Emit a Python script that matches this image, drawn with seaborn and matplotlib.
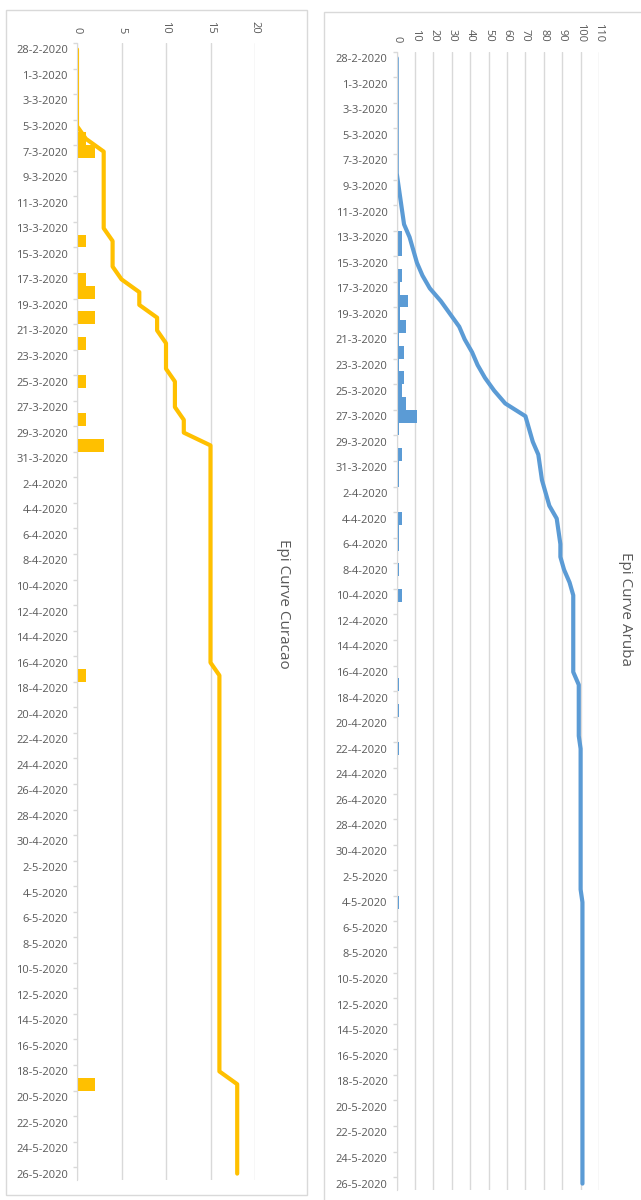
import numpy as np
import pandas as pd
import seaborn as sns
import matplotlib.pyplot as plt
from matplotlib.patches import Rectangle

# dates on the category axis (every day, labels every 2nd day)
dates = pd.date_range("2020-02-28", "2020-05-26")
day_labels = [f"{d.day}-{d.month}-{d.year}" for d in dates]

# Curacao: new cases per day and running total
curacao_new = [0, 0, 0, 0, 0, 0, 0, 1, 2, 0,
               0, 0, 0, 0, 0, 1, 0, 0, 1, 2,
               0, 2, 0, 1, 0, 0, 1, 0, 0, 1,
               0, 3, 0, 0, 0, 0, 0, 0, 0, 0,
               0, 0, 0, 0, 0, 0, 0, 0, 0, 1,
               0, 0, 0, 0, 0, 0, 0, 0, 0, 0,
               0, 0, 0, 0, 0, 0, 0, 0, 0, 0,
               0, 0, 0, 0, 0, 0, 0, 0, 0, 0,
               0, 2, 0, 0, 0, 0, 0, 0, 0]
curacao_total = [0, 0, 0, 0, 0, 0, 0, 1, 3, 3,
                 3, 3, 3, 3, 3, 4, 4, 4, 5, 7,
                 7, 9, 9, 10, 10, 10, 11, 11, 11, 12,
                 12, 15, 15, 15, 15, 15, 15, 15, 15, 15,
                 15, 15, 15, 15, 15, 15, 15, 15, 15, 16,
                 16, 16, 16, 16, 16, 16, 16, 16, 16, 16,
                 16, 16, 16, 16, 16, 16, 16, 16, 16, 16,
                 16, 16, 16, 16, 16, 16, 16, 16, 16, 16,
                 16, 18, 18, 18, 18, 18, 18, 18, 18]

# Aruba: new cases per day and running total
aruba_new = [0, 0, 0, 0, 0, 0, 0, 0, 0, 0,
             0, 0, 0, 0, 3, 3, 0, 3, 2, 6,
             2, 5, 1, 4, 1, 4, 3, 5, 11, 1,
             0, 3, 1, 1, 0, 0, 3, 1, 1, 0,
             1, 0, 3, 0, 0, 0, 0, 0, 0, 1,
             0, 1, 0, 0, 1, 0, 0, 0, 0, 0,
             0, 0, 0, 0, 0, 0, 1, 0, 0, 0,
             0, 0, 0, 0, 0, 0, 0, 0, 0, 0,
             0, 0, 0, 0, 0, 0, 0, 0, 0]
aruba_total = [0, 0, 0, 0, 0, 0, 0, 0, 0, 0,
               1, 2, 3, 4, 7, 9, 11, 14, 18, 24,
               29, 34, 37, 41, 44, 48, 53, 59, 70, 72,
               74, 77, 78, 79, 81, 83, 87, 88, 89, 89,
               91, 94, 96, 96, 96, 96, 96, 96, 96, 99,
               99, 99, 99, 99, 100, 100, 100, 100, 100, 100,
               100, 100, 100, 100, 100, 100, 101, 101, 101, 101,
               101, 101, 101, 101, 101, 101, 101, 101, 101, 101,
               101, 101, 101, 101, 101, 101, 101, 101, 101]

GRID = "#d9d9d9"
TXT = "#595959"

sns.set_style("white")
plt.rcParams['font.family'] = ['Open Sans', 'DejaVu Sans']

W, H = 641, 1200
fig = plt.figure(figsize=(W / 100, H / 100), dpi=100)


def draw_panel(rect, new, total, color, xmax, step):
    ax = fig.add_axes(rect)
    df = pd.DataFrame({"day": np.arange(len(day_labels)), "new": new, "total": total})
    sns.barplot(data=df, x="new", y="day", orient="h", native_scale=True, width=1,
                color=color, saturation=1, linewidth=0, ax=ax)
    sns.lineplot(data=df, x="total", y="day", orient="y", sort=False, estimator=None,
                 color=color, lw=3, ax=ax)
    ax.set_xlim(0, xmax)
    ax.set_ylim(len(day_labels) - 0.5, -0.5)
    ax.set_axisbelow(True)
    ax.grid(axis="x", color=GRID, lw=1)
    ax.grid(axis="y", visible=False)
    ax.xaxis.tick_top()
    ax.set_xticks(range(0, xmax + 1, step))
    ax.tick_params(axis="x", length=0, pad=7, labelrotation=-90, labelsize=8, labelcolor=TXT)
    ax.set_yticks(range(0, len(day_labels), 2))
    ax.set_yticklabels(day_labels[::2])
    ax.set_yticks(np.arange(-0.5, len(day_labels) - 1, 2), minor=True)
    ax.tick_params(axis="y", which="major", length=0, pad=6.5, labelsize=8, labelcolor=TXT)
    ax.tick_params(axis="y", which="minor", length=3, width=1, color=GRID, left=True)
    for s in ["top", "right", "bottom"]:
        ax.spines[s].set_visible(False)
    ax.spines["left"].set_color(GRID)
    ax.set_xlabel("")
    ax.set_ylabel("")
    return ax


# Curacao panel
draw_panel([77 / W, 1 - 1180 / H, (255 - 77) / W, (1180 - 43) / H],
           curacao_new, curacao_total, "#FFC000", 20, 5)
fig.text(284 / W, 1 - 604 / H, "Epi Curve Curacao", rotation=-90, ha="center", va="center",
         fontsize=11, color=TXT)
fig.add_artist(Rectangle((6 / W, 1 - 1195 / H), (307 - 6) / W, (1195 - 10) / H,
                         transform=fig.transFigure, fill=False, ec=GRID, lw=1))

# Aruba panel
draw_panel([396.7 / W, 1 - 1190 / H, (599 - 396.7) / W, (1190 - 51.7) / H],
           aruba_new, aruba_total, "#5B9BD5", 110, 10)
fig.text(626 / W, 1 - 609 / H, "Epi Curve Aruba", rotation=-90, ha="center", va="center",
         fontsize=11, color=TXT)
fig.add_artist(Rectangle((324 / W, 1 - 1210 / H), (660 - 324) / W, (1210 - 12) / H,
                         transform=fig.transFigure, fill=False, ec=GRID, lw=1))

fig.savefig("out.png", dpi=100)
